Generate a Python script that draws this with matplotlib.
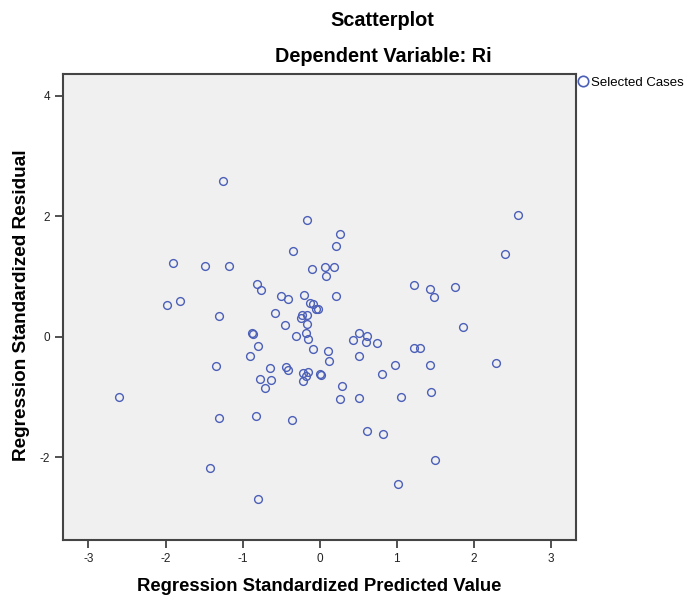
import matplotlib
matplotlib.use("Agg")
import matplotlib.pyplot as plt
from matplotlib.lines import Line2D

plt.rcParams['font.family'] = ['Liberation Sans', 'DejaVu Sans']

predicted = [
    -1.253, -0.162, -0.344, -1.903, -1.483, -1.175, -0.100, -0.810, -0.756, -0.504,
    -0.413, -0.197, -1.810, 0.262, 0.210, 0.075, 0.184, 0.084, 0.214, 1.227,
    1.439, 1.490, 1.756, 2.405, 2.574, -1.980, -1.305, -0.123, -0.080, -0.045,
    -0.020, -0.574, -0.227, -0.166, -0.244, -0.444, -0.162, -0.305, -0.175, -0.145,
    -0.088, -0.877, -0.870, -0.795, -0.898, -1.344, -0.647, -0.435, -0.413, -0.210,
    -0.145, -0.180, -0.218, 0.006, -0.777, -0.634, -0.704, -2.600, -1.300, -0.825,
    -0.361, -1.418, -0.795, 0.024, 0.110, 0.120, 0.288, 0.270, 0.510, 0.517,
    0.440, 0.617, 0.608, 0.743, 0.513, 0.985, 0.810, 1.054, 1.227, 1.305,
    1.435, 1.452, 1.864, 2.290, 0.620, 0.830, 1.500, 1.020,
]
residual = [
    2.59, 1.93, 1.43, 1.23, 1.17, 1.18, 1.12, 0.88, 0.78, 0.685,
    0.625, 0.69, 0.60, 1.71, 1.51, 1.156, 1.166, 1.01, 0.67, 0.857,
    0.80, 0.663, 0.82, 1.37, 2.02, 0.536, 0.353, 0.56, 0.54, 0.46,
    0.46, 0.393, 0.37, 0.36, 0.31, 0.19, 0.215, 0.017, 0.07, -0.04,
    -0.20, 0.06, 0.04, -0.16, -0.315, -0.48, -0.51, -0.50, -0.55, -0.60,
    -0.575, -0.647, -0.73, -0.62, -0.70, -0.72, -0.846, -1.00, -1.34, -1.32,
    -1.38, -2.17, -2.69, -0.625, -0.23, -0.40, -0.82, -1.03, -1.02, 0.06,
    -0.05, 0.01, -0.08, -0.11, -0.31, -0.46, -0.62, -0.995, -0.18, -0.18,
    -0.46, -0.92, 0.17, -0.44, -1.56, -1.61, -2.05, -2.44,
]
x_ticks = [-3, -2, -1, 0, 1, 2, 3]
y_ticks = [-2, 0, 2, 4]

marker_color = '#4b5fb8'
W, H = 687, 596

fig = plt.figure(figsize=(6.87, 5.96), dpi=100)
ax = fig.add_axes([62.7 / W, 1 - 540 / H, (575.7 - 62.7) / W, (540 - 74) / H])
ax.set_facecolor('#f0f0f0')
ax.plot(predicted, residual, linestyle='none', marker='o', markersize=5.6,
        markerfacecolor='none', markeredgecolor=marker_color, markeredgewidth=1.0)

ax.set_xlim(-3.335, 3.327)
ax.set_ylim(-3.37, 4.36)
ax.set_xticks(x_ticks)
ax.set_yticks(y_ticks)
ax.set_xticklabels([str(v) for v in x_ticks])
ax.set_yticklabels([str(v) for v in y_ticks])
ax.tick_params(axis='both', direction='out', length=6, width=1.2, color='#333333',
               labelsize=8.5, labelcolor='#222222', pad=3)
for s in ax.spines.values():
    s.set_color('#444444')
    s.set_linewidth(1.5)

fig.text(319 / W, 1 - 591 / H, 'Regression Standardized Predicted Value',
         ha='center', va='baseline', fontsize=13.3, fontweight='bold')
fig.text(22 / W, 1 - 305 / H, 'Regression Standardized Residual',
         ha='center', va='center', rotation=90, fontsize=13.7, fontweight='bold')

fig.text(382 / W, 1 - 20 / H, 'Scatterplot', ha='center', va='center',
         fontsize=14.3, fontweight='bold')
fig.text(383 / W, 1 - 57 / H, 'Dependent Variable: Ri', ha='center', va='center',
         fontsize=14.3, fontweight='bold')

handle = Line2D([], [], linestyle='none', marker='o', markersize=7.5,
                markerfacecolor='none', markeredgecolor=marker_color, markeredgewidth=1.2)
fig.legend([handle], ['Selected Cases'], loc='center left',
           bbox_to_anchor=(578 / W, 1 - 83 / H), frameon=False,
           fontsize=9.5, handlelength=0.7, handletextpad=0.25, borderaxespad=0,
           borderpad=0)

fig.savefig('out.png', dpi=100)
